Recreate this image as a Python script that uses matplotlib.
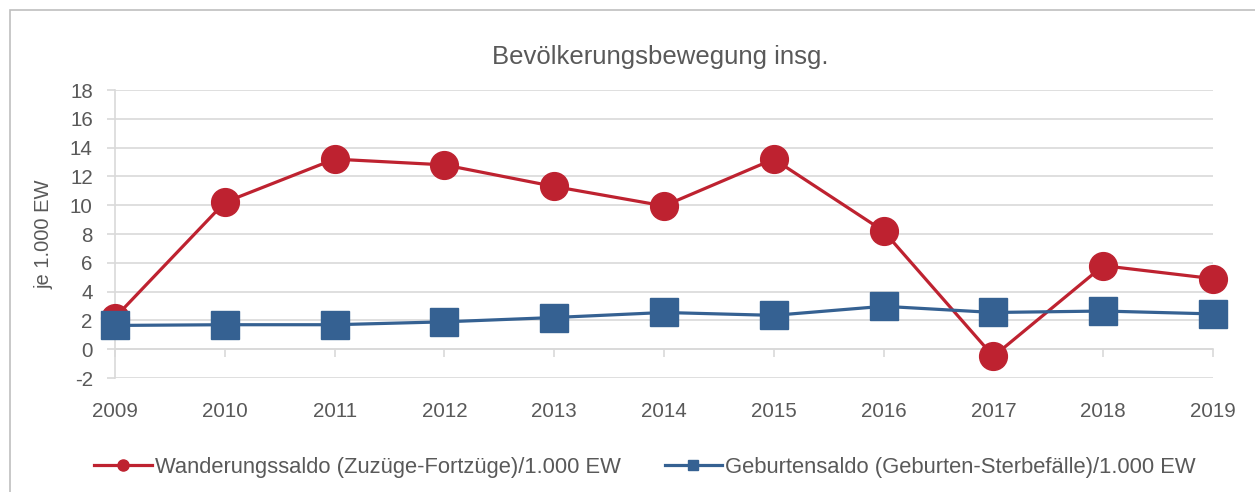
import numpy as np
import matplotlib
matplotlib.use("Agg")
import matplotlib.pyplot as plt
from matplotlib.patches import Rectangle

plt.rcParams['font.family'] = ['Liberation Sans', 'DejaVu Sans']
plt.rcParams['axes.unicode_minus'] = False

years = [2009, 2010, 2011, 2012, 2013, 2014, 2015, 2016, 2017, 2018, 2019]
wanderung = [2.2, 10.2, 13.2, 12.8, 11.3, 9.95, 13.2, 8.2, -0.5, 5.8, 4.9]
geburten = [1.65, 1.7, 1.7, 1.9, 2.2, 2.55, 2.35, 2.98, 2.55, 2.65, 2.45]
yticks = list(range(-2, 19, 2))

title = "Bevölkerungsbewegung insg."
ylabel = "je 1.000 EW"
lab_w = "Wanderungssaldo (Zuzüge-Fortzüge)/1.000 EW"
lab_g = "Geburtensaldo (Geburten-Sterbefälle)/1.000 EW"

red = "#BE2230"
blue = "#356192"
grey = "#595959"
gridc = "#D9D9D9"

fig = plt.figure(figsize=(12.55, 4.92), dpi=100)
fig.patches.append(Rectangle((10/1255, -0.1), 1.2, 1.1 - 10/492, transform=fig.transFigure,
                             fill=False, edgecolor="#BFBFBF", lw=1.2))
ax = fig.add_axes([115/1255, 1-378/492, (1213-115)/1255, (378-90)/492])

ax.plot(years, wanderung, color=red, lw=2.3, marker="o", ms=20, label=lab_w, zorder=3, clip_on=False)
ax.plot(years, geburten, color=blue, lw=2.3, marker="s", ms=19.5, label=lab_g, zorder=4, clip_on=False)

ax.set_xlim(2009, 2019)
ax.set_ylim(-2, 18)
ax.set_yticks(yticks)
ax.set_xticks(years)
ax.grid(axis="y", color=gridc, lw=1.2)
ax.set_axisbelow(True)
for s in ["top", "right", "bottom"]:
    ax.spines[s].set_visible(False)
ax.spines["left"].set_color(gridc)
ax.spines["left"].set_linewidth(1.2)
ax.tick_params(axis="y", length=6, color=gridc, width=1.2, labelsize=14.8, labelcolor=grey, pad=10)
ax.tick_params(axis="x", length=0, labelsize=14.8, labelcolor=grey, pad=17)

# axis line crossing at 0 with tick marks
sec = ax.secondary_xaxis(0.1)
sec.set_xticks(years)
sec.tick_params(axis="x", length=6, color=gridc, width=1.2, labelbottom=False)
sec.spines["bottom"].set_color(gridc)
sec.spines["bottom"].set_linewidth(1.2)

ax.set_ylabel(ylabel, fontsize=14.5, color=grey, labelpad=12)
fig.text(660/1255, 1-57/492, title, ha="center", va="center", fontsize=18.5, color=grey)

leg = fig.legend(loc="center", bbox_to_anchor=(645/1255, 1-467/492), ncol=2, frameon=False,
                 fontsize=15.8, markerscale=0.4, handlelength=2.6, handletextpad=0.15,
                 columnspacing=2.0)
for t in leg.get_texts():
    t.set_color(grey)

fig.savefig("out.png", dpi=100)
